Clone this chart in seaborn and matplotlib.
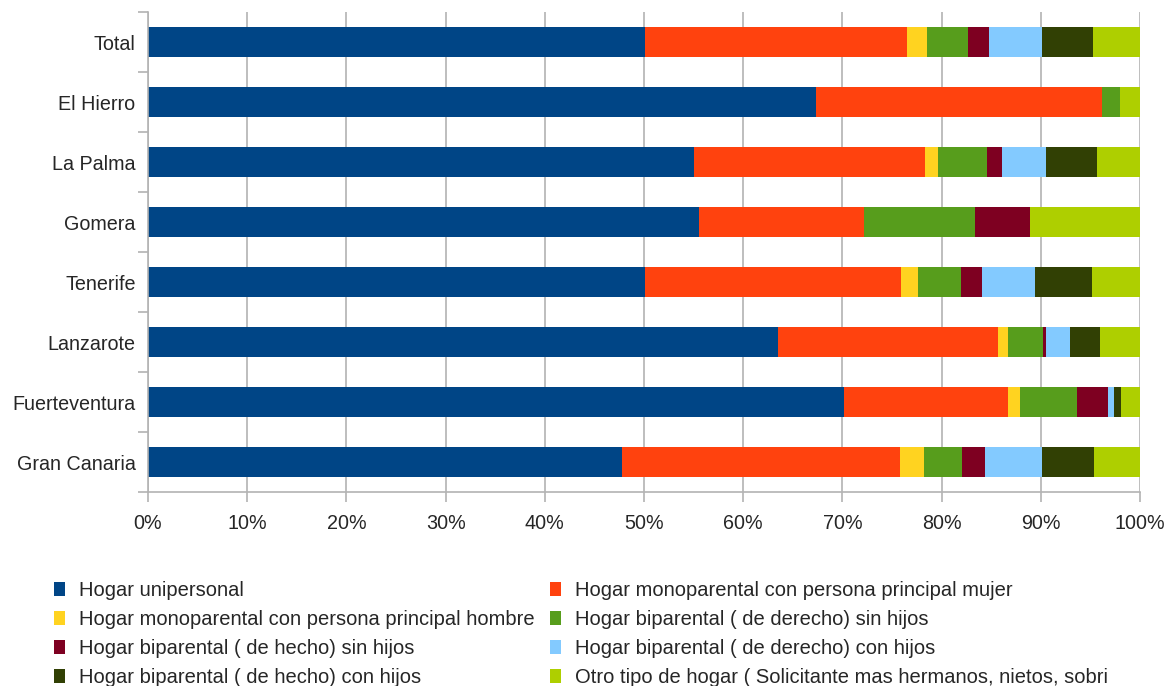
import matplotlib
matplotlib.use("Agg")
import matplotlib.pyplot as plt
from matplotlib.patches import Patch
import seaborn as sns
import pandas as pd
import numpy as np

islands = ["Total", "El Hierro", "La Palma", "Gomera", "Tenerife",
           "Lanzarote", "Fuerteventura", "Gran Canaria"]

series_names = [
    "Hogar unipersonal",
    "Hogar monoparental con persona principal mujer",
    "Hogar monoparental con persona principal hombre",
    "Hogar biparental ( de derecho) sin hijos",
    "Hogar biparental ( de hecho) sin hijos",
    "Hogar biparental ( de derecho) con hijos",
    "Hogar biparental ( de hecho) con hijos",
    "Otro tipo de hogar ( Solicitante mas hermanos, nietos, sobri",
]

unipersonal     = [50.1, 67.3, 55.0, 55.5, 50.1, 63.5, 70.2, 47.8]
mono_mujer      = [26.4, 28.9, 23.3, 16.7, 25.8, 22.2, 16.5, 28.0]
mono_hombre     = [2.0, 0.0, 1.3, 0.0, 1.7, 1.0, 1.2, 2.4]
bi_der_sin      = [4.2, 1.8, 5.0, 11.2, 4.4, 3.5, 5.7, 3.9]
bi_hecho_sin    = [2.1, 0.0, 1.5, 5.5, 2.1, 0.3, 3.2, 2.3]
bi_der_con      = [5.3, 0.0, 4.4, 0.0, 5.3, 2.4, 0.6, 5.7]
bi_hecho_con    = [5.2, 0.0, 5.2, 0.0, 5.8, 3.1, 0.7, 5.3]
otro            = [4.7, 2.0, 4.3, 11.1, 4.8, 4.0, 1.9, 4.6]

colors = ["#004586", "#ff420e", "#ffd320", "#579d1c",
          "#7e0021", "#83caff", "#314004", "#aecf00"]

values = [unipersonal, mono_mujer, mono_hombre, bi_der_sin,
          bi_hecho_sin, bi_der_con, bi_hecho_con, otro]

df = pd.DataFrame({name: v for name, v in zip(series_names, values)}, index=islands)
# normalise to 100%
df = df.div(df.sum(axis=1), axis=0) * 100
cum = df.cumsum(axis=1)

sns.set_style("white")
plt.rcParams['font.family'] = ['Liberation Sans', 'DejaVu Sans']

FS = 14.5
TFS = 14.2
fig = plt.figure(figsize=(11.67, 6.86), dpi=100)
ax = fig.add_axes([148 / 1167, 1 - 492 / 686, (1140 - 148) / 1167, 480 / 686])

ax.set_axisbelow(True)
ax.xaxis.grid(True, color="#b3b3b3", linewidth=1.2)
for name, col in reversed(list(zip(series_names, colors))):
    sns.barplot(x=cum[name].values, y=islands, order=islands, color=col,
                orient="h", width=0.5, ax=ax, saturation=1, linewidth=0)

ax.set_xlim(0, 100)
ax.set_ylim(len(islands) - 0.5, -0.5)
ax.set_xticks(np.arange(0, 101, 10))
ax.set_xticklabels([f"{t}%" for t in range(0, 101, 10)])
ax.set_xlabel("")
ax.set_ylabel("")
ax.tick_params(axis="x", length=7, width=1.2, color="#b3b3b3", labelsize=TFS, pad=9, direction="out", bottom=True)
ax.tick_params(axis="y", length=0, labelsize=TFS, pad=9)
# category separators on y axis
ax.set_yticks(np.arange(len(islands) + 1) - 0.5, minor=True)
ax.tick_params(axis="y", which="minor", length=7, width=1.2, color="#b3b3b3", left=True)
for s in ["top", "right"]:
    ax.spines[s].set_visible(False)
for s in ["left", "bottom"]:
    ax.spines[s].set_color("#b3b3b3")
    ax.spines[s].set_linewidth(1.2)

handles = [Patch(facecolor=c, edgecolor="none", label=n) for n, c in zip(series_names, colors)]
order = [0, 2, 4, 6, 1, 3, 5, 7]
leg = fig.legend([handles[i] for i in order], [series_names[i] for i in order],
                 loc="upper left", bbox_to_anchor=(46 / 1167, 1 - 573 / 686),
                 ncol=2, frameon=False, fontsize=FS, handlelength=0.55,
                 handleheight=0.7, handletextpad=0.7, columnspacing=0.75,
                 labelspacing=0.49, borderaxespad=0)

fig.savefig("out.png", dpi=100)
